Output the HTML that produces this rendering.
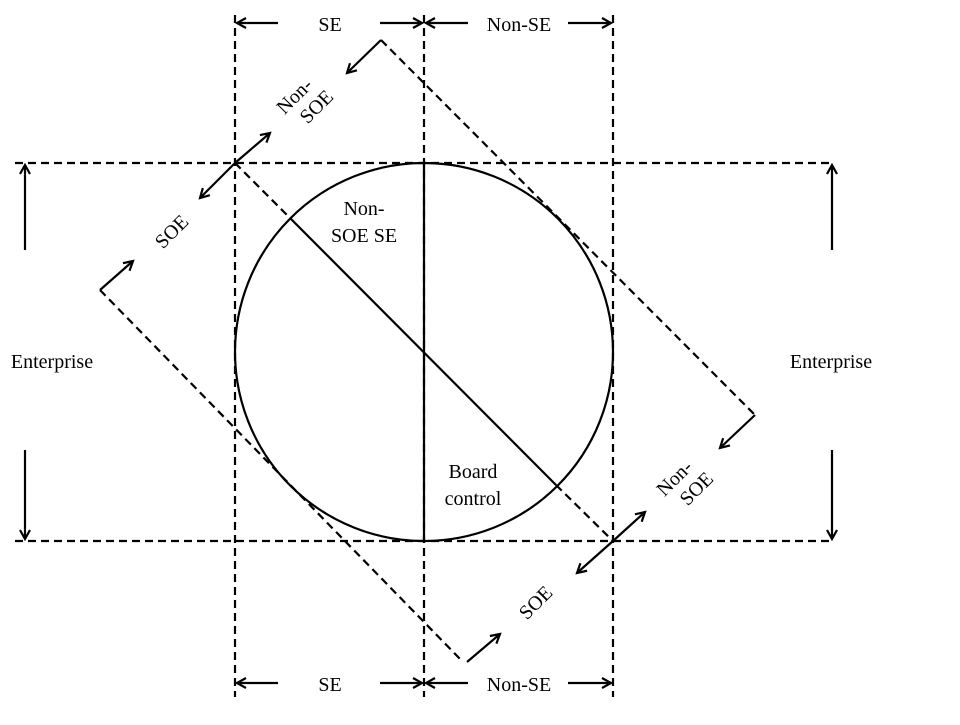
<!DOCTYPE html>
<html><head><style>body{margin:0;background:#fff}</style></head><body>
<svg width="960" height="720" xmlns="http://www.w3.org/2000/svg" font-family="Liberation Serif, serif" font-size="20">
<defs><marker id="a" markerWidth="12" markerHeight="12" refX="10" refY="6" orient="auto" markerUnits="userSpaceOnUse"><path d="M1,1 L10,6 L1,11" fill="none" stroke="#000" stroke-width="2.2"/></marker></defs>
<g stroke="#000" stroke-width="2.2" fill="none">
<g stroke-dasharray="8,5">
<line x1="235" y1="15" x2="235" y2="697"/><line x1="424" y1="15" x2="424" y2="697"/><line x1="613" y1="15" x2="613" y2="697"/>
<line x1="15" y1="163" x2="833" y2="163"/><line x1="15" y1="541" x2="833" y2="541"/>
<line x1="381" y1="40" x2="755" y2="415"/><line x1="100" y1="290" x2="463" y2="662"/>
<line x1="235" y1="163" x2="290" y2="218"/><line x1="556" y1="485" x2="613" y2="541"/>
</g>
<circle cx="424" cy="352" r="189"/>
<line x1="424" y1="163" x2="424" y2="541"/><line x1="290" y1="218" x2="556" y2="485"/>
<g marker-end="url(#a)">
<line x1="278" y1="23" x2="237" y2="23"/><line x1="380" y1="23" x2="422" y2="23"/>
<line x1="468" y1="23" x2="426" y2="23"/><line x1="568" y1="23" x2="611" y2="23"/>
<line x1="278" y1="683" x2="237" y2="683"/><line x1="380" y1="683" x2="422" y2="683"/>
<line x1="468" y1="683" x2="426" y2="683"/><line x1="568" y1="683" x2="611" y2="683"/>
<line x1="25" y1="250" x2="25" y2="165"/><line x1="25" y1="450" x2="25" y2="539"/>
<line x1="832" y1="250" x2="832" y2="165"/><line x1="832" y1="450" x2="832" y2="539"/>
<line x1="235" y1="163" x2="270" y2="133"/><line x1="235" y1="163" x2="200" y2="198"/>
<line x1="613" y1="541" x2="645" y2="512"/><line x1="613" y1="541" x2="577" y2="573"/>
</g>
<path d="M381,40 L347,73" marker-end="url(#a)"/>
<path d="M100,290 L133,261" marker-end="url(#a)"/>
<path d="M755,415 L720,448" marker-end="url(#a)"/>
<path d="M467,662 L500,634" marker-end="url(#a)"/>
</g>
<g text-anchor="middle" fill="#000">
<text x="330" y="31">SE</text><text x="519" y="31">Non-SE</text>
<text x="330" y="691">SE</text><text x="519" y="691">Non-SE</text>
<text x="52" y="368">Enterprise</text><text x="831" y="368">Enterprise</text>
<text x="364" y="215">Non-</text><text x="364" y="242">SOE SE</text>
<text x="473" y="478">Board</text><text x="473" y="505">control</text>
<g transform="translate(304,100) rotate(-45)"><text x="-4" y="-3">Non-</text><text x="4" y="20">SOE</text></g>
<g transform="translate(172,232) rotate(-45)"><text x="0" y="6">SOE</text></g>
<g transform="translate(684,482) rotate(-45)"><text x="-4" y="-3">Non-</text><text x="4" y="20">SOE</text></g>
<g transform="translate(536,603) rotate(-45)"><text x="0" y="6">SOE</text></g>
</g>
</svg>
</body></html>
